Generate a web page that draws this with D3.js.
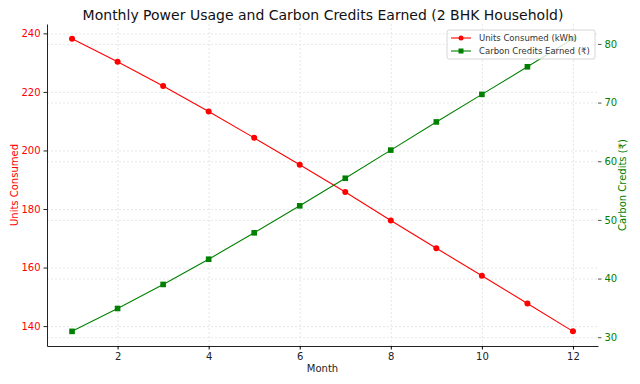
<!DOCTYPE html>
<html>
<head>
<meta charset="utf-8">
<script src="https://cdn.jsdelivr.net/npm/d3@7"></script>
<style>
  body { margin: 0; background: #fff; }
  svg, svg text { font-family: "DejaVu Sans", sans-serif; }
  .grid line { stroke: #dcdcdc; stroke-dasharray: 2,2; stroke-width: 0.7; }
  .grid path { display: none; }
</style>
</head>
<body>
<div id="chart"></div>
<script>
// data
var months = [1, 2, 3, 4, 5, 6, 7, 8, 9, 10, 11, 12];
var unitsConsumed = [238.2, 230.3, 222.0, 213.3, 204.3, 195.1, 185.8, 176.1, 166.6, 157.2, 147.7, 138.2];
var carbonCredits = [31.0, 34.9, 39.0, 43.3, 47.8, 52.4, 57.1, 61.9, 66.7, 71.4, 76.1, 80.9];
var xTicks = [2, 4, 6, 8, 10, 12];
var leftTicks = [140, 160, 180, 200, 220, 240];
var rightTicks = [30, 40, 50, 60, 70, 80];

var width = 640, height = 384;
var margin = {top: 24, right: 42, bottom: 38, left: 47};
var innerW = width - margin.left - margin.right,
    innerH = height - margin.top - margin.bottom;

var svg = d3.select('#chart').append('svg').attr('width', width).attr('height', height);
var g = svg.append('g').attr('transform', 'translate(' + margin.left + ',' + margin.top + ')');

function padded(arr) {
    var lo = d3.min(arr), hi = d3.max(arr), m = (hi - lo) * 0.05;
    return [lo - m, hi + m];
}

var x = d3.scaleLinear().domain([0.45, 12.55]).range([0, innerW]);
var yL = d3.scaleLinear().domain(padded(unitsConsumed)).range([innerH, 0]);
var yR = d3.scaleLinear().domain(padded(carbonCredits)).range([innerH, 0]);

// grids (both y axes draw their own)
g.append('g').attr('class', 'grid')
    .attr('transform', 'translate(0,' + innerH + ')')
    .call(d3.axisBottom(x).tickValues(xTicks).tickSize(-innerH).tickFormat(''));
g.append('g').attr('class', 'grid')
    .call(d3.axisLeft(yL).tickValues(leftTicks).tickSize(-innerW).tickFormat(''));
g.append('g').attr('class', 'grid')
    .call(d3.axisLeft(yR).tickValues(rightTicks).tickSize(-innerW).tickFormat(''));

// axes
var xAxis = g.append('g')
    .attr('transform', 'translate(0,' + innerH + ')')
    .call(d3.axisBottom(x).tickValues(xTicks).tickSize(3.5).tickSizeOuter(0).tickPadding(3));
xAxis.attr('font-family', null);
xAxis.select('.domain').attr('stroke', '#222');
xAxis.selectAll('text').attr('font-size', 10).attr('fill', '#222');

var leftAxis = g.append('g')
    .call(d3.axisLeft(yL).tickValues(leftTicks).tickSize(3.5).tickSizeOuter(0).tickPadding(3));
leftAxis.attr('font-family', null);
leftAxis.select('.domain').attr('stroke', '#222');
leftAxis.selectAll('.tick line').attr('stroke', '#222');
leftAxis.selectAll('text').attr('font-size', 10).attr('fill', 'red');

var rightAxis = g.append('g')
    .attr('transform', 'translate(' + innerW + ',0)')
    .call(d3.axisRight(yR).tickValues(rightTicks).tickSize(3.5).tickPadding(3));
rightAxis.attr('font-family', null);
rightAxis.select('.domain').remove();
rightAxis.selectAll('.tick line').attr('stroke', '#555');
rightAxis.selectAll('text').attr('font-size', 10).attr('fill', 'green');

// lines
var redLine = d3.line().x(function(d, i) { return x(months[i]); }).y(function(d) { return yL(d); });
var greenLine = d3.line().x(function(d, i) { return x(months[i]); }).y(function(d) { return yR(d); });

g.append('path').datum(unitsConsumed)
    .attr('d', redLine).attr('fill', 'none').attr('stroke', 'red').attr('stroke-width', 1.1);
g.selectAll('.redpt').data(unitsConsumed).enter().append('circle')
    .attr('cx', function(d, i) { return x(months[i]); })
    .attr('cy', function(d) { return yL(d); })
    .attr('r', 3).attr('fill', 'red');

g.append('path').datum(carbonCredits)
    .attr('d', greenLine).attr('fill', 'none').attr('stroke', 'green').attr('stroke-width', 1.1);
g.selectAll('.greenpt').data(carbonCredits).enter().append('rect')
    .attr('x', function(d, i) { return x(months[i]) - 2.8; })
    .attr('y', function(d) { return yR(d) - 2.8; })
    .attr('width', 5.6).attr('height', 5.6).attr('fill', 'green');

// labels
svg.append('text').attr('x', 323).attr('y', 20).attr('text-anchor', 'middle')
    .attr('font-size', 14).attr('fill', '#111')
    .text('Monthly Power Usage and Carbon Credits Earned (2 BHK Household)');
svg.append('text').attr('x', margin.left + innerW / 2).attr('y', 372).attr('text-anchor', 'middle')
    .attr('font-size', 10).attr('fill', '#222').text('Month');
svg.append('text').attr('transform', 'translate(18,' + (margin.top + innerH / 2) + ') rotate(-90)')
    .attr('text-anchor', 'middle').attr('font-size', 10).attr('fill', 'red').text('Units Consumed');
svg.append('text').attr('transform', 'translate(626,' + (margin.top + innerH / 2) + ') rotate(-90)')
    .attr('text-anchor', 'middle').attr('font-size', 10).attr('fill', 'green').text('Carbon Credits (₹)');

// legend
var legendItems = [
    {label: 'Units Consumed (kWh)', color: 'red', shape: 'circle'},
    {label: 'Carbon Credits Earned (₹)', color: 'green', shape: 'square'}
];
var lg = svg.append('g').attr('transform', 'translate(447,30)');
lg.append('rect').attr('width', 148).attr('height', 29).attr('rx', 2)
    .attr('fill', 'rgba(255,255,255,0.8)').attr('stroke', '#ccc').attr('stroke-width', 0.8);
var li = lg.selectAll('.li').data(legendItems).enter().append('g')
    .attr('transform', function(d, i) { return 'translate(4,' + (8 + i * 13) + ')'; });
li.append('line').attr('x1', 0).attr('x2', 20).attr('stroke', function(d) { return d.color; }).attr('stroke-width', 1.1);
li.each(function(d) {
    var s = d3.select(this);
    if (d.shape === 'circle') s.append('circle').attr('cx', 10).attr('r', 2.5).attr('fill', d.color);
    else s.append('rect').attr('x', 7.5).attr('y', -2.5).attr('width', 5).attr('height', 5).attr('fill', d.color);
});
li.append('text').attr('x', 28).attr('dy', '0.35em').attr('font-size', 8.5).attr('fill', '#333').text(function(d) { return d.label; });
</script>
</body>
</html>
